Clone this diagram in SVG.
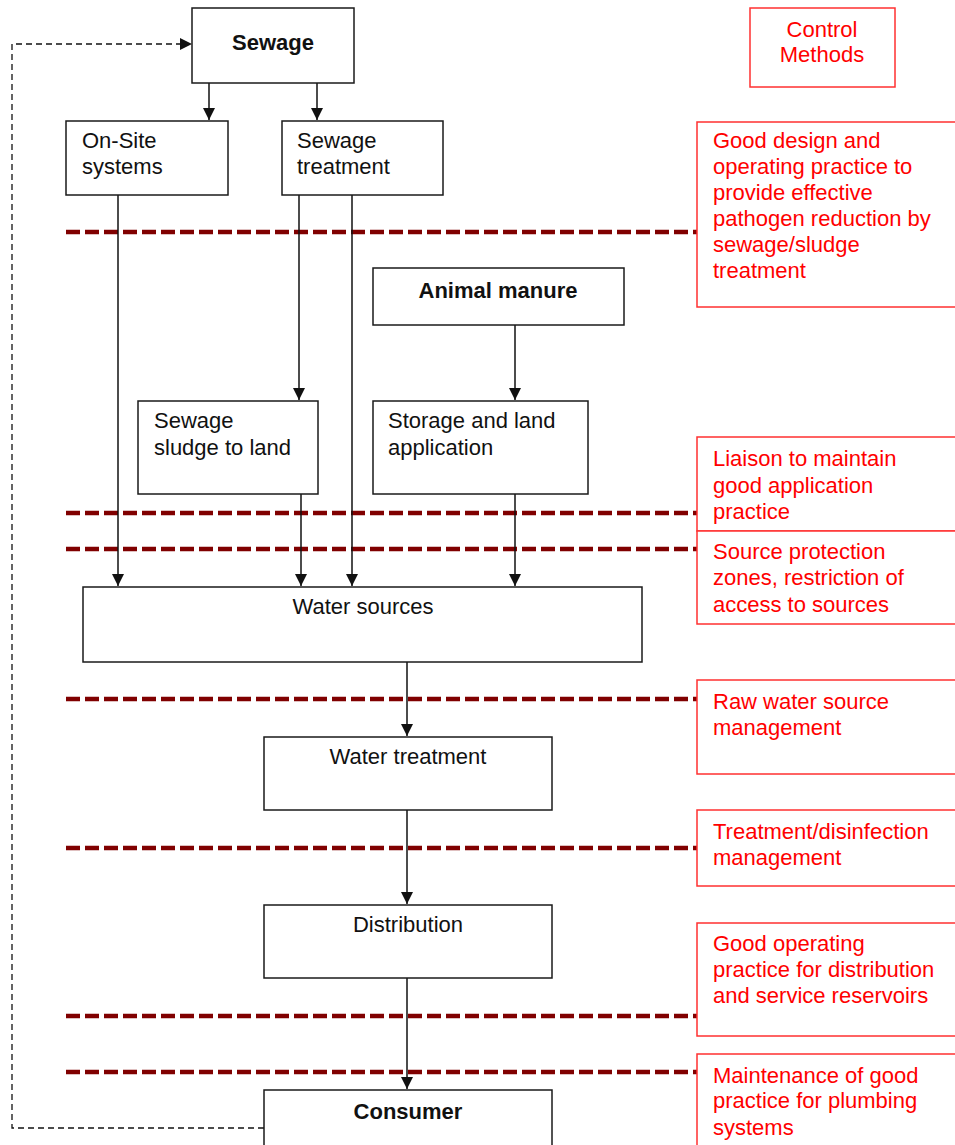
<svg xmlns="http://www.w3.org/2000/svg" width="955" height="1145" viewBox="0 0 955 1145">
<style>
.box{fill:#fff;stroke:#1a1a1a;stroke-width:1.5}
.rbox{fill:#fff;stroke:#ff3030;stroke-width:1.5}
.t{font-family:"Liberation Sans",Arial,sans-serif;font-size:22px;fill:#111}
.b{font-weight:bold}
.r{font-family:"Liberation Sans",Arial,sans-serif;font-size:22px;fill:#ff0000}
.c{stroke:#111;stroke-width:1.5;fill:none;marker-end:url(#ah)}
.fb{stroke:#111;stroke-width:1.3;fill:none;stroke-dasharray:6 4}
.red{stroke:#800000;stroke-width:4.5;stroke-dasharray:14 5;fill:none}
</style>
<defs>
<marker id="ah" markerUnits="userSpaceOnUse" markerWidth="12" markerHeight="14" refX="12" refY="6" orient="auto">
<path d="M0,0 L12,6 L0,12 Z" fill="#111"/>
</marker>
</defs>
<rect width="955" height="1145" fill="#fff"/>

<g id="control-lines">
<line class="red" x1="66" y1="232" x2="697" y2="232"/>
<line class="red" x1="66" y1="513" x2="697" y2="513"/>
<line class="red" x1="66" y1="549" x2="697" y2="549"/>
<line class="red" x1="66" y1="699" x2="697" y2="699"/>
<line class="red" x1="66" y1="848" x2="697" y2="848"/>
<line class="red" x1="66" y1="1016" x2="697" y2="1016"/>
<line class="red" x1="66" y1="1072" x2="697" y2="1072"/>
</g>

<g id="connectors">
<line class="c" x1="209" y1="83" x2="209" y2="120"/>
<line class="c" x1="317" y1="83" x2="317" y2="120"/>
<line class="c" x1="118" y1="195" x2="118" y2="586"/>
<line class="c" x1="299" y1="195" x2="299" y2="400"/>
<line class="c" x1="352" y1="195" x2="352" y2="586"/>
<line class="c" x1="515" y1="325" x2="515" y2="400"/>
<line class="c" x1="301" y1="494" x2="301" y2="586"/>
<line class="c" x1="515" y1="494" x2="515" y2="586"/>
<line class="c" x1="407" y1="662" x2="407" y2="736"/>
<line class="c" x1="407" y1="810" x2="407" y2="904"/>
<line class="c" x1="407" y1="978" x2="407" y2="1089"/>
<path class="fb" d="M264,1128 H12 V44 H180"/>
<path d="M180,38 L192,44 L180,50 Z" fill="#111"/>
</g>

<g id="sewage"><rect class="box" x="192" y="8" width="162" height="75"/><text class="t b" x="273" y="50" text-anchor="middle">Sewage</text></g>
<g id="onsite"><rect class="box" x="66" y="121" width="162" height="74"/><text class="t" x="82" y="148">On-Site</text><text class="t" x="82" y="174">systems</text></g>
<g id="sewage-treatment"><rect class="box" x="282" y="121" width="161" height="74"/><text class="t" x="297" y="148">Sewage</text><text class="t" x="297" y="174">treatment</text></g>
<g id="animal-manure"><rect class="box" x="373" y="268" width="251" height="57"/><text class="t b" x="498" y="298" text-anchor="middle">Animal manure</text></g>
<g id="sludge"><rect class="box" x="138" y="401" width="180" height="93"/><text class="t" x="154" y="428">Sewage</text><text class="t" x="154" y="455">sludge to land</text></g>
<g id="storage"><rect class="box" x="373" y="401" width="215" height="93"/><text class="t" x="388" y="428">Storage and land</text><text class="t" x="388" y="455">application</text></g>
<g id="water-sources"><rect class="box" x="83" y="587" width="559" height="75"/><text class="t" x="363" y="614" text-anchor="middle">Water sources</text></g>
<g id="water-treatment"><rect class="box" x="264" y="737" width="288" height="73"/><text class="t" x="408" y="764" text-anchor="middle">Water treatment</text></g>
<g id="distribution"><rect class="box" x="264" y="905" width="288" height="73"/><text class="t" x="408" y="932" text-anchor="middle">Distribution</text></g>
<g id="consumer"><rect class="box" x="264" y="1090" width="288" height="80"/><text class="t b" x="408" y="1119" text-anchor="middle">Consumer</text></g>

<g id="control-methods"><rect class="rbox" x="750" y="8" width="145" height="79"/><text class="r" x="822" y="37" text-anchor="middle">Control</text><text class="r" x="822" y="62" text-anchor="middle">Methods</text></g>
<g id="cm1"><rect class="rbox" x="697" y="122" width="270" height="185"/>
<text class="r" x="713" y="148">Good design and</text><text class="r" x="713" y="174">operating practice to</text><text class="r" x="713" y="200">provide effective</text><text class="r" x="713" y="226">pathogen reduction by</text><text class="r" x="713" y="252">sewage/sludge</text><text class="r" x="713" y="278">treatment</text></g>
<g id="cm2"><rect class="rbox" x="697" y="437" width="270" height="94"/>
<text class="r" x="713" y="466">Liaison to maintain</text><text class="r" x="713" y="493">good application</text><text class="r" x="713" y="519">practice</text></g>
<g id="cm3"><rect class="rbox" x="697" y="531" width="270" height="93"/>
<text class="r" x="713" y="559">Source protection</text><text class="r" x="713" y="585">zones, restriction of</text><text class="r" x="713" y="612">access to sources</text></g>
<g id="cm4"><rect class="rbox" x="697" y="680" width="270" height="94"/>
<text class="r" x="713" y="709">Raw water source</text><text class="r" x="713" y="735">management</text></g>
<g id="cm5"><rect class="rbox" x="697" y="810" width="270" height="76"/>
<text class="r" x="713" y="839">Treatment/disinfection</text><text class="r" x="713" y="865">management</text></g>
<g id="cm6"><rect class="rbox" x="697" y="923" width="270" height="113"/>
<text class="r" x="713" y="951">Good operating</text><text class="r" x="713" y="977">practice for distribution</text><text class="r" x="713" y="1003">and service reservoirs</text></g>
<g id="cm7"><rect class="rbox" x="697" y="1054" width="270" height="110"/>
<text class="r" x="713" y="1083">Maintenance of good</text><text class="r" x="713" y="1108">practice for plumbing</text><text class="r" x="713" y="1135">systems</text></g>
</svg>
